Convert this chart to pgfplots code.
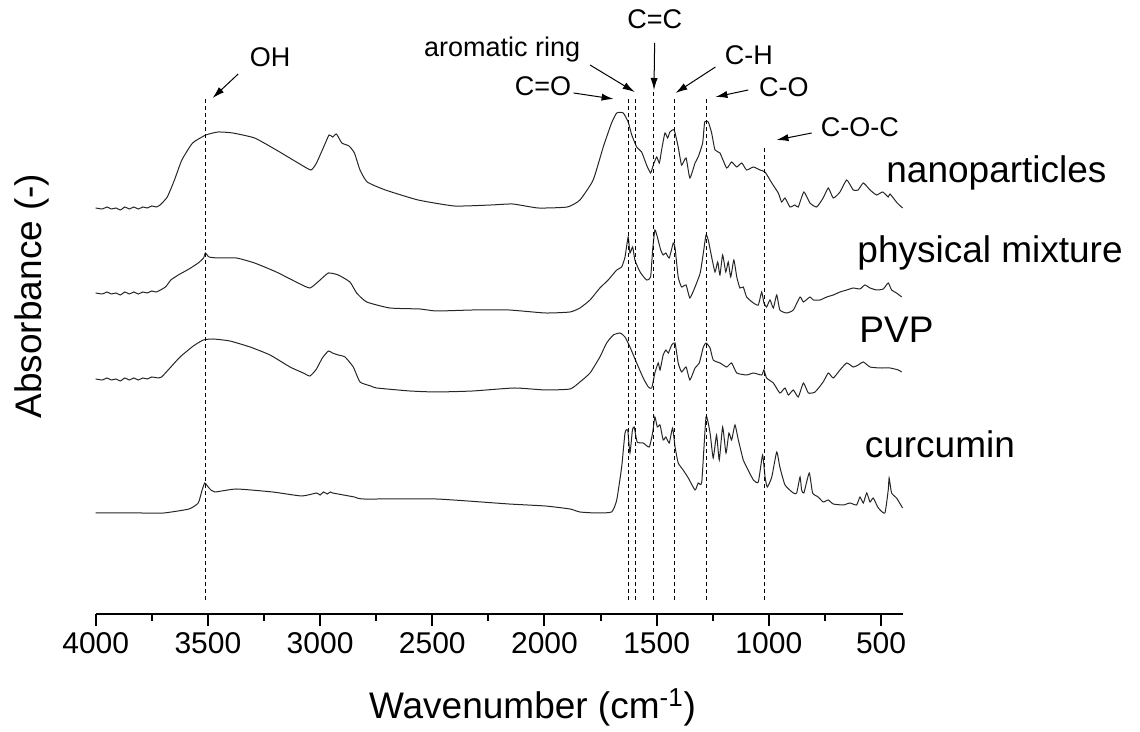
\documentclass[border=0pt]{standalone}
\usepackage{pgfplots}
\pgfplotsset{compat=1.18}
\usepackage{fontspec}
\setmainfont{Liberation Sans}
\usetikzlibrary{arrows.meta}
\begin{document}
\begin{tikzpicture}
\useasboundingbox (0,0) rectangle (570pt,366pt);
\begin{axis}[
  at={(47.85pt,59pt)}, anchor=south west,
  scale only axis, width=403.9pt, height=307pt,
  x dir=reverse, xmin=400, xmax=4000, ymin=0, ymax=614,
  axis x line*=bottom, axis y line=none,
  xtick={500,1000,...,4000}, minor x tick num=1,
  tick align=outside, major tick length=5.8pt, minor tick length=3.3pt,
  tick style={line width=1pt, black},
  axis line style={line width=1pt, black},
  xticklabel style={font=\fontsize{15}{18}\selectfont},
  /pgf/number format/assume math mode=true,
  /pgf/number format/set thousands separator={},
  clip=false,
  spec/.style={black!85, solid, line width=0.5pt, mark=none, smooth, tension=0.3},
  mk/.style={black, line width=0.45pt, dash pattern=on 2pt off 1.5pt, mark=none},
]
% nanoparticles
\addplot[spec] coordinates {
(4000,406) (3970,405) (3950,407) (3930,405) (3910,406) (3890,404) (3870,407) (3850,405) (3830,407) (3810,405)
(3790,407) (3770,406) (3750,408) (3730,407) (3713,409)
(3681,417) (3649,434) (3616,454) (3568,471) (3509,479) (3454,482) (3389,481) (3292,476) (3195,464) (3098,451)
(3041,444) (3016,451) (2984,467) (2960,479) (2944,477) (2927,480) (2903,471) (2871,468) (2847,461) (2822,444)
(2790,432) (2709,424) (2563,414) (2401,408) (2239,409) (2142,410) (2028,406) (1898,407) (1842,414) (1783,434)
(1738,467) (1701,491) (1678,501) (1649,501) (1627,492) (1611,479) (1589,467) (1567,462) (1545,449) (1527,441)
(1515,449) (1500,457) (1488,451) (1478,464) (1463,481) (1451,476) (1441,482) (1422,484) (1404,467) (1389,449)
(1369,456) (1352,436) (1329,451) (1315,457) (1295,471) (1286,492) (1270,492) (1255,481) (1240,464) (1218,461)
(1188,446) (1166,452) (1143,447) (1121,451) (1099,444) (1069,447) (1040,444) (1017,442) (987,431) (958,421)
(943,412) (928,416) (906,407) (884,409) (869,407) (844,422) (817,411) (787,407) (758,416) (735,426)
(713,416) (683,422) (653,434) (624,424) (602,424) (579,431) (549,424) (520,419) (493,422) (468,417)
(460,420) (428,411) (404,406)
};
% physical mixture
\addplot[spec] coordinates {
(4000,321) (3970,320) (3950,322) (3930,320) (3910,321) (3890,319) (3870,322) (3850,320) (3830,322) (3810,320)
(3790,322) (3770,321) (3750,323) (3729,322) (3689,327) (3665,334)
(3632,339) (3584,345) (3543,351) (3519,356) (3511,361) (3495,357) (3454,356) (3373,356) (3292,351) (3195,342)
(3098,331) (3045,326) (3000,334) (2963,341) (2919,339) (2867,332) (2837,321) (2792,312) (2689,306) (2555,305)
(2482,303) (2320,304) (2158,304) (1996,301) (1886,302) (1842,306) (1797,314) (1753,326) (1716,334) (1678,344)
(1656,347) (1641,357) (1627,377) (1619,361) (1607,367) (1597,354) (1574,342) (1545,334) (1527,337) (1518,364)
(1508,384) (1497,377) (1482,364) (1471,359) (1459,361) (1444,356) (1426,371) (1418,366) (1404,337) (1389,327)
(1369,329) (1352,316) (1329,327) (1306,341) (1292,361) (1280,379) (1270,374) (1255,357) (1240,342) (1228,352)
(1218,339) (1206,359) (1192,342) (1181,352) (1170,337) (1156,354) (1143,337) (1129,326) (1114,327) (1099,317)
(1069,311) (1047,309) (1032,322) (1022,311) (1010,307) (995,314) (980,306) (965,319) (951,304) (921,301)
(891,304) (861,317) (846,312) (817,317) (802,314) (772,314) (742,317) (713,319) (683,322) (653,324)
(624,326) (594,325) (572,329) (549,326) (520,324) (490,325) (468,331) (453,324) (431,321) (408,317)
};
% PVP
\addplot[spec] coordinates {
(4000,235) (3970,234) (3950,236) (3930,234) (3910,235) (3890,233) (3870,236) (3850,234) (3830,236) (3810,234)
(3790,236) (3770,235) (3750,237) (3720,236)
(3706,237) (3669,246) (3624,257) (3565,268) (3520,274) (3476,275) (3402,273) (3312,267) (3223,259) (3134,247)
(3075,241) (3045,238) (3016,245) (2990,256) (2963,263) (2945,261) (2919,259) (2889,257) (2852,247) (2822,232)
(2774,228) (2748,226) (2599,223) (2482,222) (2320,223) (2134,226) (1996,224) (1886,225) (1842,232) (1797,241)
(1753,257) (1723,271) (1693,279) (1663,281) (1641,277) (1619,267) (1589,251) (1560,236) (1537,227) (1522,226)
(1508,241) (1493,251) (1485,244) (1471,259) (1459,264) (1448,261) (1433,269) (1418,271) (1404,251) (1389,242)
(1369,247) (1352,234) (1329,246) (1310,251) (1292,267) (1280,271) (1262,266) (1248,254) (1218,251) (1188,247)
(1166,251) (1143,241) (1099,239) (1069,241) (1032,239) (1022,244) (1010,236) (980,231) (951,221) (928,226)
(913,219) (891,224) (869,217) (846,231) (824,221) (794,222) (758,232) (735,241) (713,236) (683,244)
(653,251) (624,247) (602,249) (579,252) (549,247) (505,246) (460,246) (423,244) (408,242)
};
% curcumin
\addplot[spec] coordinates {
(4000,101) (3800,101) (3697,101) (3584,105) (3543,111) (3527,123) (3514,131) (3495,126) (3470,122) (3373,125)
(3211,122) (3082,118) (3016,121) (3000,119) (2985,122) (2968,120) (2955,122) (2944,121) (2847,117) (2806,115)
(2482,115) (2158,110) (1996,108) (1886,105) (1842,102) (1768,101) (1701,102) (1678,114) (1656,147) (1641,181)
(1629,184) (1619,161) (1608,184) (1600,187) (1587,172) (1560,171) (1533,167) (1518,181) (1508,197) (1497,187)
(1485,189) (1471,174) (1459,177) (1444,171) (1429,186) (1418,167) (1404,151) (1382,144) (1359,136) (1329,124)
(1315,131) (1299,132) (1280,197) (1262,181) (1248,156) (1233,179) (1221,154) (1206,187) (1191,161) (1178,181)
(1166,174) (1151,189) (1136,174) (1114,154) (1099,147) (1069,134) (1047,132) (1028,159) (1017,137) (1007,127)
(987,137) (965,162) (951,147) (928,129) (891,121) (876,121) (861,137) (854,124) (844,121) (820,141)
(805,121) (780,117) (758,112) (735,114) (713,110) (668,109) (639,111) (609,109) (594,117) (579,111)
(564,121) (549,112) (535,116) (512,106) (483,101) (468,124) (464,136) (453,121) (431,116) (404,106)
};
% dashed marker lines
\addplot[mk] coordinates {(3510,14) (3510,516)};
\addplot[mk] coordinates {(1625,14) (1625,515)};
\addplot[mk] coordinates {(1595,14) (1595,515)};
\addplot[mk] coordinates {(1515,14) (1515,524)};
\addplot[mk] coordinates {(1420,14) (1420,515)};
\addplot[mk] coordinates {(1280,14) (1280,515)};
\addplot[mk] coordinates {(1020,14) (1020,469)};
% arrows
\begin{scope}[line width=0.5pt, -{Latex[length=6pt,width=3.6pt]}]
\draw (axis cs:3365,540) -- (axis cs:3479,516);
\draw (axis cs:1797,549) -- (axis cs:1598,522);
\draw (axis cs:1870,521) -- (axis cs:1692,515);
\draw (axis cs:1509,571) -- (axis cs:1512,524);
\draw (axis cs:1238,547) -- (axis cs:1416,521);
\draw (axis cs:1092,524) -- (axis cs:1238,517);
\draw (axis cs:809,481) -- (axis cs:966,474);
\end{scope}
% annotation labels
\begin{scope}[every node/.style={font=\fontsize{13.5}{16}\selectfont, anchor=base, inner sep=0pt}]
\node at (axis cs:3223,547) {OH};
\node at (axis cs:2189,557) {aromatic ring};
\node at (axis cs:2007,518) {C=O};
\node at (axis cs:1508,585) {C=C};
\node at (axis cs:1089,549) {C-H};
\node at (axis cs:933,517) {C-O};
\node at (axis cs:594,477) {C-O-C};
\end{scope}
% curve labels
\begin{scope}[every node/.style={font=\fontsize{18.5}{22}\selectfont, anchor=base west, inner sep=0pt}]
\node at (axis cs:478,431) {nanoparticles};
\node at (axis cs:607,351) {physical mixture};
\node at (axis cs:598,271) {PVP};
\node at (axis cs:574,156) {curcumin};
\end{scope}
% axis labels
\node[font=\fontsize{18.5}{22}\selectfont, anchor=base, inner sep=0pt, rotate=90] at (axis cs:4241,318) {Absorbance (-)};
\node[font=\fontsize{18.5}{22}\selectfont, anchor=base, inner sep=0pt] at (axis cs:2053,-105) {Wavenumber (cm\textsuperscript{-1})};
\end{axis}
\end{tikzpicture}
\end{document}
